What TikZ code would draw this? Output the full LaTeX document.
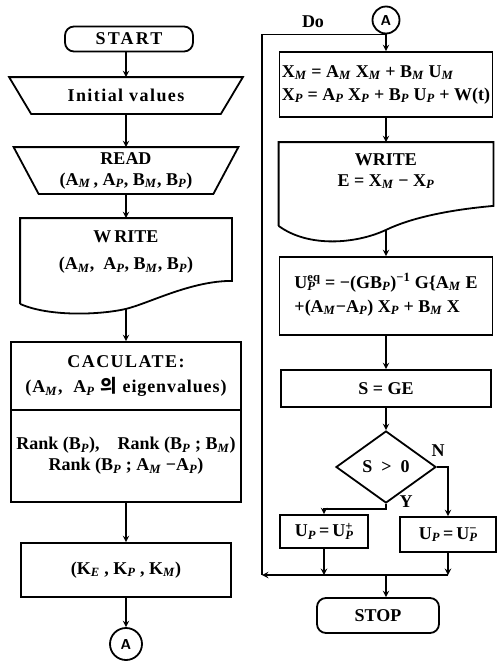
\documentclass[tikz,border=0pt]{standalone}
\usepackage{fontspec}
\setmainfont{Liberation Serif}
\newfontfamily\krfont{Noto Sans CJK KR}
\usetikzlibrary{shapes.geometric}
\newcommand\lsub[1]{\textsubscript{\textit{#1}}}
\newcommand\lsup[1]{\textsuperscript{#1}}
\newcommand\lsupsub[2]{\rlap{\textsubscript{\textit{#2}}}\textsuperscript{#1}}
\newcommand\spaced[2]{{\addfontfeature{LetterSpace=#1}#2}}
\begin{document}
\begin{tikzpicture}[>=stealth,x=1pt,y=-1pt,line width=1.8pt,
  font=\fontsize{18}{21}\selectfont\bfseries,
  term/.style={draw,rounded corners=9pt,inner sep=0pt},
  box/.style={draw,inner sep=0pt,align=center},
  txt/.style={inner sep=0pt,align=center},
  conn/.style={draw,circle,inner sep=0pt,font=\sffamily\bfseries\Large}]
  \useasboundingbox (0,0) rectangle (497,662);
  \node[term,minimum width=128pt,minimum height=25pt] (st) at (129,39) {\spaced{12}{START}};
  \node[txt,minimum width=188pt,minimum height=35pt] (iv) at (126,95.5) {\spaced{8}{Initial values}};
  \draw ([xshift=-22pt]iv.north west) -- ([xshift=22pt]iv.north east) -- (iv.south east) -- (iv.south west) -- cycle;
  \node[txt,minimum width=173pt,minimum height=45pt] (rd) at (126,170.5) {READ\\(A\lsub{M}\,, A\lsub{P}, B\lsub{M}, B\lsub{P})};
  \draw ([xshift=-25pt]rd.north west) -- ([xshift=25pt]rd.north east) -- (rd.south east) -- (rd.south west) -- cycle;
  \node[txt,minimum width=210pt,minimum height=84pt] (wr) at (126,261) {};
  \node[txt,yshift=9pt] at (wr) {W\,RITE\\[6pt](A\lsub{M},\ \ A\lsub{P}, B\lsub{M}, B\lsub{P})};
  \coordinate (w1m) at ([yshift=-5pt]wr.south);
  \draw (wr.south west) -- (wr.north west) -- (wr.north east) -- ([yshift=23pt]wr.south east)
    .. controls +(-41,0) and +(24,-6) .. (w1m) .. controls +(-26,6) and +(29,13) .. (wr.south west);
  \node[box,minimum width=230pt,minimum height=68pt] (ca) at (126,376) {\spaced{8}{CACULATE:}\\[4pt]\spaced{5}{(A\lsub{M},\ \ A\lsub{P} {\krfont 의} eigenvalues)}};
  \node[box,minimum width=230pt,minimum height=92pt] (rk) at (126,456) {Rank (B\lsub{P}),\quad Rank (B\lsub{P} ; B\lsub{M})\\Rank (B\lsub{P} ; A\lsub{M} −A\lsub{P})};
  \node[box,minimum width=210pt,minimum height=54pt] (kk) at (126,570) {(K\lsub{E} , K\lsub{P} , K\lsub{M})};
  \node[conn,minimum size=32pt] (ca1) at (126,644) {A};
  \draw[->] (iv.north |- st.south) -- (iv.north);
  \draw[->] (iv) -- (rd);
  \draw[->] (rd) -- (wr.north);
  \draw[->] (w1m) -- (ca);
  \draw[->] (rk) -- (kk);
  \draw[->] (kk) -- (ca1);
  \node[conn,minimum size=27pt] (ca2) at (386,20) {A};
  \node[txt] (do) at (313,22) {Do};
  \node[box,minimum width=213pt,minimum height=65pt] (b1) at (386,84.5) {\begin{tabular}{@{}l@{}}X\lsub{M} = A\lsub{M} X\lsub{M} + B\lsub{M} U\lsub{M}\\[2pt]X\lsub{P} = A\lsub{P} X\lsub{P} + B\lsub{P} U\lsub{P} + W(t)\end{tabular}};
  \node[txt,minimum width=213pt,minimum height=82pt] (wr2) at (386,184) {};
  \node[txt,yshift=13pt] at (wr2) {WRITE\\E = X\lsub{M} − X\lsub{P}};
  \coordinate (w2m) at ([yshift=-4pt]wr2.south);
  \draw (wr2.south west) -- (wr2.north west) -- (wr2.north east) -- ([yshift=20pt]wr2.south east)
    .. controls +(-45,4) and +(25,-12) .. (w2m) .. controls +(-30,14) and +(30,22) .. (wr2.south west);
  \node[box,minimum width=213pt,minimum height=78pt] (b3) at (386,296) {\begin{tabular}{@{}l@{}}U\lsupsub{eq}{P} = −(GB\lsub{P})\lsup{−1} G\{A\lsub{M} E\\[3pt]+(A\lsub{M}−A\lsub{P}) X\lsub{P} + B\lsub{M} X\end{tabular}};
  \node[box,minimum width=210pt,minimum height=37pt] (sg) at (386,388.5) {S = GE};
  \node[draw,diamond,aspect=1.4,inner sep=0pt,minimum width=100pt,minimum height=72pt] (dia) at (386,467) {S\ \ >\ \ 0};
  \node[txt] (nn) at (438,451) {N};
  \node[txt] (ny) at (406,502) {Y};
  \node[box,minimum width=88pt,minimum height=33pt] (up) at (324,531.5) {U\lsub{P}\,=\,U\lsupsub{+}{P}};
  \node[box,minimum width=96pt,minimum height=35pt] (un) at (448,534.5) {U\lsub{P}\,=\,U\lsupsub{−}{P}};
  \coordinate (jn) at (386,575);
  \coordinate (lp) at (262,575);
  \node[term,minimum width=122pt,minimum height=35pt] (stp) at (378,615.5) {STOP};
  \draw[->] (ca2) -- (b1);
  \draw[->] (b1) -- (wr2.north);
  \draw[->] (w2m) -- (b3);
  \draw[->] (b3) -- (sg);
  \draw[->] (sg) -- (dia);
  \draw[->] (dia.east) -| (un.north);
  \draw[->] (dia.south) -- ++(0,5) -| (up.north);
  \draw[->] (up.south) -- (up.south |- jn);
  \draw[->] (un.south) -- (un.south |- jn);
  \draw[->] (un.south |- jn) -- (lp);
  \draw (lp) |- (ca2.south);
  \draw[->] (jn) -- (jn |- stp.north);
\end{tikzpicture}
\end{document}
